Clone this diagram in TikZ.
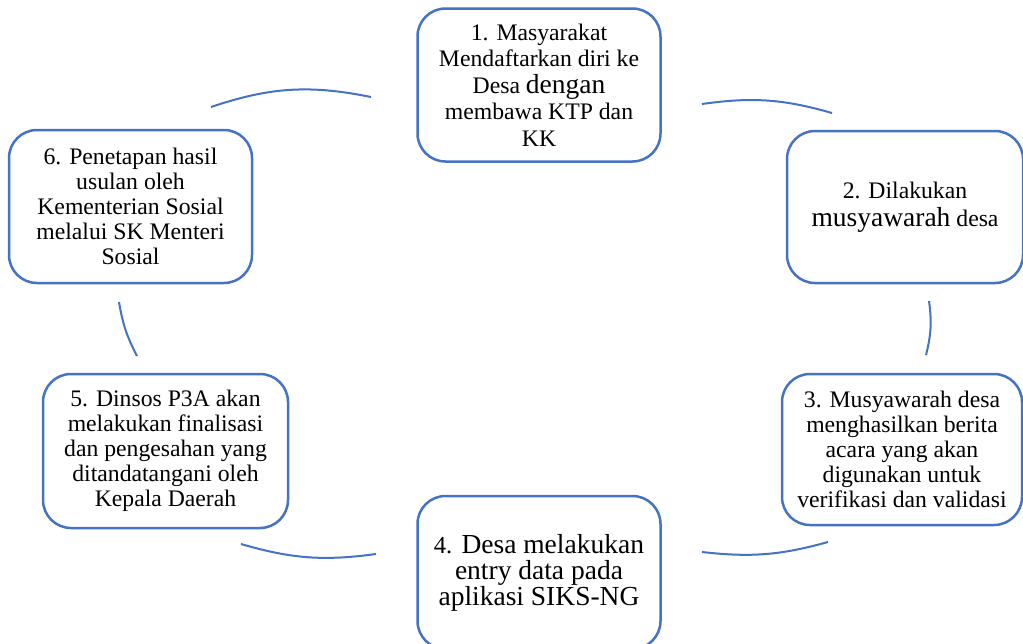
\documentclass[tikz,border=0pt]{standalone}
\usepackage{fontspec}
\setmainfont{Liberation Serif}
\usetikzlibrary{positioning}
\definecolor{cycleblue}{HTML}{4472C4}
\newcommand{\bigword}[1]{{\fontsize{27.5}{27}\selectfont #1}}

\begin{document}
\begin{tikzpicture}[x=1pt, y=-1pt,
     stepbox/.style = {draw=cycleblue, line width=2.5pt, rounded corners=28pt,
                       minimum width=243pt, minimum height=153pt, inner sep=0pt,
                       align=center, font=\fontsize{23.7}{25}\selectfont},
      cycarc/.style = {draw=cycleblue, line width=2pt}
      ]
    \clip (0,0) rectangle (1023,643);
    % steps of the cycle
    \node (n1) [stepbox, font=\fontsize{23.7}{26.5}\selectfont] at (539,85)
          {1. Masyarakat\\Mendaftarkan diri ke\\Desa \bigword{dengan}\\membawa KTP dan\\KK};
    \node (n2) [stepbox, minimum width=236pt, minimum height=152pt] at (905,207)
          {2. Dilakukan\\[3pt]\bigword{musyawarah} desa};
    \node (n3) [stepbox, minimum width=240pt, minimum height=151pt] at (902,449.5)
          {3. Musyawarah desa\\menghasilkan berita\\acara yang akan\\digunakan untuk\\verifikasi dan validasi};
    \node (n4) [stepbox, font=\fontsize{27.5}{26}\selectfont] at (539,572.5)
          {{\fontsize{24.5}{26}\selectfont 4.} Desa melakukan\\entry data pada\\aplikasi SIKS-NG};
    \node (n5) [stepbox, minimum width=245pt, minimum height=154pt] at (165.5,451)
          {5. Dinsos P3A akan\\melakukan finalisasi\\dan pengesahan yang\\ditandatangani oleh\\Kepala Daerah};
    \node (n6) [stepbox] at (130.5,206.5)
          {6. Penetapan hasil\\usulan oleh\\Kementerian Sosial\\melalui SK Menteri\\Sosial};
    % arcs between the steps
    \coordinate (a1s) at (211,107);  \coordinate (a1e) at (371,97);
    \coordinate (a2s) at (702,104);  \coordinate (a2e) at (832,113);
    \coordinate (a3s) at (929,301);  \coordinate (a3e) at (926,355);
    \coordinate (a4s) at (828,542);  \coordinate (a4e) at (702,552);
    \coordinate (a5s) at (376,554);  \coordinate (a5e) at (241,544);
    \coordinate (a6s) at (137,356);  \coordinate (a6e) at (119,302);
    \draw[cycarc] (a1s) to[bend left=15] (a1e);
    \draw[cycarc] (a2s) to[bend left=12] (a2e);
    \draw[cycarc] (a3s) to[bend left=11] (a3e);
    \draw[cycarc] (a4s) to[bend left=11] (a4e);
    \draw[cycarc] (a5s) to[bend left=12] (a5e);
    \draw[cycarc] (a6s) to[bend left=9] (a6e);
\end{tikzpicture}
\end{document}
